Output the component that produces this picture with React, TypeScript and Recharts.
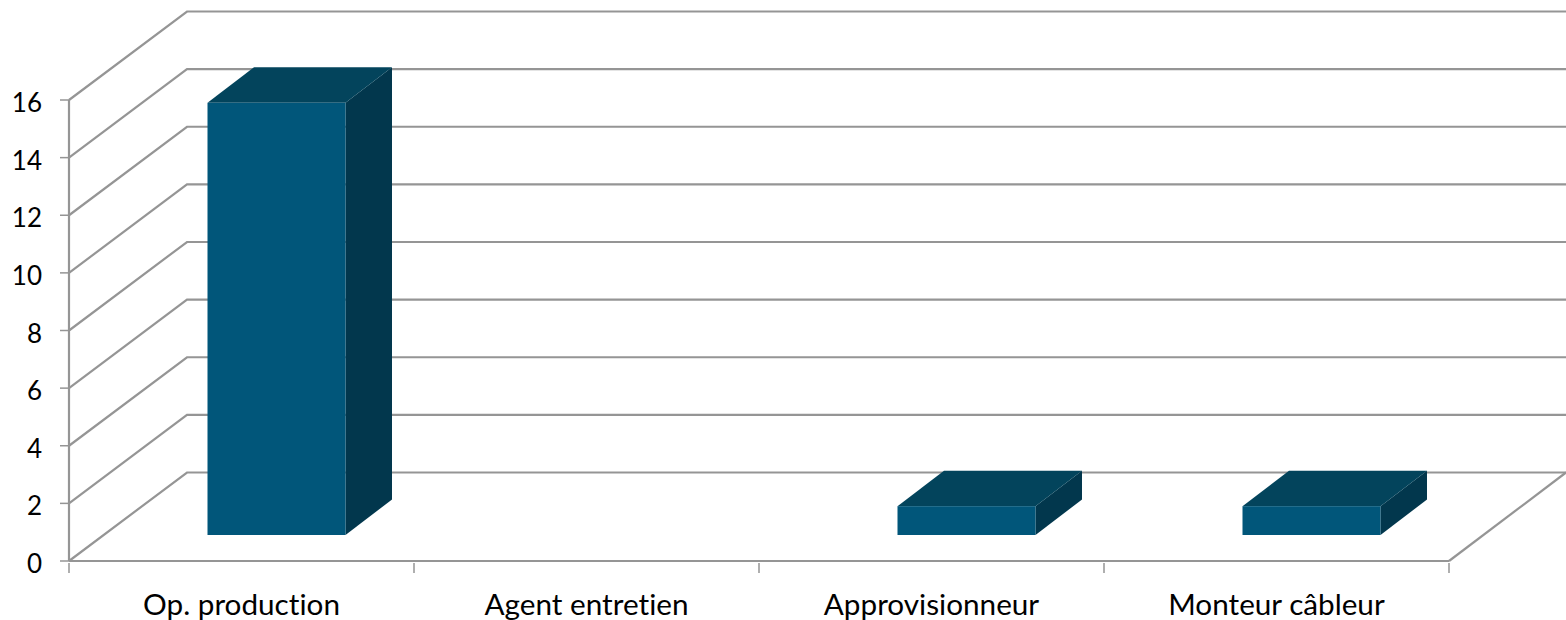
import { Bar, BarChart, CartesianGrid, XAxis, YAxis } from "recharts";

const CATEGORIES = ["Op. production", "Agent entretien", "Approvisionneur", "Monteur câbleur"];
const VALUES = [15, 0, 1, 1];
const Y_TICKS = [0, 2, 4, 6, 8, 10, 12, 14, 16];

const rows = CATEGORIES.map((name, i) => ({ name, value: VALUES[i] }));

const LINE = "#959595";
const FONT = "Lato, 'Open Sans', sans-serif";
const FRONT = "#01567a";
const TOP = "#03445c";
const SIDE = "#02374d";

// depth of the floor, and where the bars sit on it
const WALL_DX = 118;
const WALL_DY = -88.5;
const BAR_DX = 35;
const BAR_DY = -26;
const BAR_DEPTH_X = 46.5;
const BAR_DEPTH_Y = -35.5;
const BAND = 345;

function Box(props: any) {
  const { x, y, width, height } = props;
  if (!height) return null;
  const l = x + BAR_DX;
  const r = l + width;
  const t = y + BAR_DY;
  const b = t + height;
  const dx = BAR_DEPTH_X;
  const dy = BAR_DEPTH_Y;
  return (
    <g>
      <polygon points={`${r},${t} ${r + dx},${t + dy} ${r + dx},${b + dy} ${r},${b}`} fill={SIDE} />
      <polygon points={`${l},${t} ${l + dx},${t + dy} ${r + dx},${t + dy} ${r},${t}`} fill={TOP} />
      <rect x={l} y={t} width={width} height={height} fill={FRONT} />
    </g>
  );
}

function WallLine(props: any) {
  const { x1, y1, x2, index } = props;
  const backY = y1 + WALL_DY;
  return (
    <g key={index}>
      <polyline
        points={`${x1},${y1} ${x1 + WALL_DX},${backY} 1566,${backY}`}
        fill="none"
        stroke={LINE}
        strokeWidth={2.2}
      />
      {y1 > 560 && <line x1={x2} y1={y1} x2={x2 + 117} y2={backY} stroke={LINE} strokeWidth={2.2} />}
    </g>
  );
}

// Excel puts the tick marks between the categories, not under them
function CategoryTick(props: any) {
  const { x, y, payload, index } = props;
  const last = index === CATEGORIES.length - 1;
  return (
    <g>
      <line x1={x - BAND / 2} y1={y - 8} x2={x - BAND / 2} y2={y + 2} stroke={LINE} strokeWidth={1.5} />
      {last && <line x1={x + BAND / 2} y1={y - 8} x2={x + BAND / 2} y2={y + 2} stroke={LINE} strokeWidth={1.5} />}
      <text
        x={x}
        y={y + 44}
        textAnchor="middle"
        fill="#000"
        fontSize={29.7}
        fontFamily={FONT}
        style={{ fontVariantLigatures: "none" }}
      >
        {payload.value}
      </text>
    </g>
  );
}

function ValueTick(props: any) {
  const { x, y, payload } = props;
  return (
    <text x={x} y={y + 12} textAnchor="end" fill="#000" fontSize={26} fontFamily={FONT}>
      {payload.value}
    </text>
  );
}

export default function App() {
  return (
    <div style={{ position: "absolute", left: 0, top: 0, width: 1566, height: 620, background: "#fff" }}>
      <BarChart
        width={1566}
        height={620}
        data={rows}
        margin={{ top: 100, right: 117, bottom: 0, left: 0 }}
        barCategoryGap="30%"
      >
        <CartesianGrid vertical={false} horizontal={WallLine} />
        <XAxis
          dataKey="name"
          interval={0}
          tickSize={8}
          height={59}
          axisLine={{ stroke: LINE, strokeWidth: 2.2 }}
          tickLine={false}
          tick={CategoryTick}
        />
        <YAxis
          width={69}
          domain={[0, 16]}
          ticks={Y_TICKS}
          interval={0}
          tickSize={9}
          tickMargin={18}
          axisLine={{ stroke: LINE, strokeWidth: 2.2 }}
          tickLine={{ stroke: LINE, strokeWidth: 1.5 }}
          tick={ValueTick}
        />
        <Bar dataKey="value" shape={Box} isAnimationActive={false} />
      </BarChart>
    </div>
  );
}
